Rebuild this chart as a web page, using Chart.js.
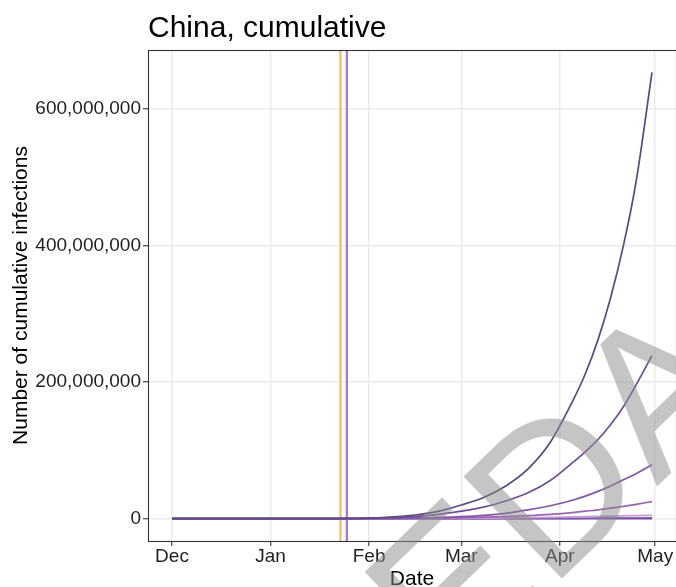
<!DOCTYPE html>
<html>
<head>
<meta charset="utf-8">
<title>China, cumulative</title>
<script src="https://cdn.jsdelivr.net/npm/chart.js@4.4.1/dist/chart.umd.min.js"></script>
<style>
  html, body { margin: 0; padding: 0; background: #ffffff; overflow: hidden; }
  #wrap { width: 680px; height: 587px; }
</style>
</head>
<body>
<div id="wrap"><canvas id="chart" width="680" height="587"></canvas></div>
<script>
// Days counted from 1 Dec 2019
const dayOffsets = [0, 31, 45, 53, 62, 70, 77, 84, 91, 98, 105, 112, 119, 126, 130, 134, 138, 142, 146, 151];

// Cumulative infections per scenario, in millions
const scenarioA = [0, 0.01, 0.08, 0.3, 1.0, 2.8, 5.8, 11, 20, 31, 48, 73, 112, 172, 212, 262, 324, 400, 494, 654];
const scenarioB = [0, 0.01, 0.06, 0.2, 0.6, 1.7, 3.4, 6.3, 11, 17, 26, 38, 56, 82, 98, 116, 138, 164, 196, 239];
const scenarioC = [0, 0, 0.02, 0.08, 0.2, 0.5, 1.0, 1.8, 3.0, 4.9, 7.9, 13, 19, 27, 33, 40, 48, 57, 66, 79];
const scenarioD = [0, 0, 0.01, 0.03, 0.1, 0.2, 0.4, 0.8, 1.4, 2.2, 3.2, 4.6, 6.4, 9, 11, 13, 15.5, 18, 21, 25];
const scenarioE = [0, 0, 0, 0.01, 0.03, 0.08, 0.15, 0.3, 0.5, 0.8, 1.1, 1.5, 2.0, 2.6, 3.0, 3.4, 3.8, 4.2, 4.6, 5.0];
const scenarioF = [0, 0, 0, 0, 0.01, 0.03, 0.05, 0.1, 0.15, 0.2, 0.28, 0.36, 0.45, 0.55, 0.62, 0.7, 0.78, 0.86, 0.95, 1.1];
const scenarioG = [0, 0, 0, 0, 0, 0.01, 0.01, 0.02, 0.03, 0.04, 0.05, 0.06, 0.07, 0.08, 0.09, 0.1, 0.11, 0.12, 0.13, 0.15];

// Month ticks on the date axis
const monthTickDays = [0, 31, 62, 91, 122, 152];
const monthTickLabels = ['Dec', 'Jan', 'Feb', 'Mar', 'Apr', 'May'];
const yTickValues = [0, 200000000, 400000000, 600000000];

// Intervention dates (23 Jan and 25 Jan)
const interventionDays = [53, 55];
const interventionColors = ['#F8BE5C', '#A67CCA'];

const scenarioColors = ['#5A4A80', '#6E4E9B', '#8556A8', '#9C62B0', '#C99BD0', '#6A5AB3', '#9E3D96'];

const MILLION = 1000000;
const xLimits = [-7.55, 158.55];
const yLimits = [-32.7 * MILLION, 686.7 * MILLION];

const FONT = "'Liberation Sans', Arial, Helvetica, sans-serif";

const scenarios = [scenarioA, scenarioB, scenarioC, scenarioD, scenarioE, scenarioF, scenarioG];

const lineSets = scenarios.map((vals, i) => ({
  label: 'scenario ' + (i + 1),
  data: vals.map((v, k) => ({ x: dayOffsets[k], y: v * MILLION })),
  borderColor: scenarioColors[i],
  borderWidth: 1.7,
  pointRadius: 0,
  cubicInterpolationMode: 'monotone',
  order: i
}));

const verticalSets = interventionDays.map((d, i) => ({
  label: 'intervention ' + (i + 1),
  data: [{ x: d, y: yLimits[0] }, { x: d, y: yLimits[1] }],
  borderColor: interventionColors[i],
  borderWidth: 2.3,
  pointRadius: 0,
  order: 20 + i
}));

const panelFrame = {
  id: 'panelFrame',
  afterDatasetsDraw(chart) {
    const { ctx, chartArea: a } = chart;
    ctx.save();
    ctx.strokeStyle = '#333333';
    ctx.lineWidth = 1.1;
    const l = Math.round(a.left) + 0.5, t = Math.round(a.top) + 0.5;
    const r = Math.round(a.right) + 0.5, b = Math.round(a.bottom) + 0.5;
    ctx.strokeRect(l, t, r - l, b - t);
    ctx.restore();
  }
};

const watermark = {
  id: 'watermark',
  afterDraw(chart) {
    const { ctx } = chart;
    ctx.save();
    ctx.translate(344, 789);
    ctx.rotate(-44 * Math.PI / 180);
    ctx.font = '206px ' + FONT;
    ctx.fillStyle = 'rgba(140,140,140,0.5)';
    ctx.textBaseline = 'alphabetic';
    ctx.textAlign = 'left';
    ctx.fillText('REDACTED', 0, 0);
    ctx.restore();
  }
};

new Chart(document.getElementById('chart'), {
  type: 'line',
  data: { datasets: [...lineSets, ...verticalSets] },
  options: {
    responsive: false,
    animation: false,
    layout: { padding: { left: 0, right: 4, top: 0, bottom: 0 } },
    plugins: {
      legend: { display: false },
      tooltip: { enabled: false },
      title: {
        display: true,
        text: 'China, cumulative',
        align: 'start',
        fullSize: false,
        color: '#000000',
        font: { family: FONT, size: 30, weight: 'normal', lineHeight: 1.2 },
        padding: { top: 11, bottom: 3 }
      }
    },
    scales: {
      x: {
        type: 'linear',
        min: xLimits[0],
        max: xLimits[1],
        afterBuildTicks(scale) { scale.ticks = monthTickDays.map(v => ({ value: v })); },
        afterFit(scale) { scale.height = 46; },
        grid: { color: '#EBEBEB', lineWidth: 1.5, tickLength: 5, tickColor: '#333333', tickWidth: 1.1 },
        border: { display: false },
        ticks: {
          padding: 0,
          color: '#1F1F1F',
          maxRotation: 0,
          autoSkip: false,
          font: { family: FONT, size: 19, lineHeight: 1.1 },
          callback(value) {
            const i = monthTickDays.indexOf(value);
            return i >= 0 ? monthTickLabels[i] : '';
          }
        },
        title: {
          display: true,
          text: 'Date',
          color: '#000000',
          padding: 0,
          font: { family: FONT, size: 21, lineHeight: 0.7 }
        }
      },
      y: {
        type: 'linear',
        min: yLimits[0],
        max: yLimits[1],
        afterBuildTicks(scale) { scale.ticks = yTickValues.map(v => ({ value: v })); },
        afterFit(scale) { scale.width = 148; },
        grid: { color: '#EBEBEB', lineWidth: 1.5, tickLength: 5, tickColor: '#333333', tickWidth: 1.1 },
        border: { display: false },
        ticks: {
          padding: 2,
          color: '#1F1F1F',
          font: { family: FONT, size: 19 },
          callback(value) { return Number(value).toLocaleString('en-US'); }
        },
        title: {
          display: true,
          text: 'Number of cumulative infections',
          color: '#000000',
          padding: { top: 9, bottom: 0 },
          font: { family: FONT, size: 21, lineHeight: 1.2 }
        }
      }
    }
  },
  plugins: [panelFrame, watermark]
});
</script>
</body>
</html>
